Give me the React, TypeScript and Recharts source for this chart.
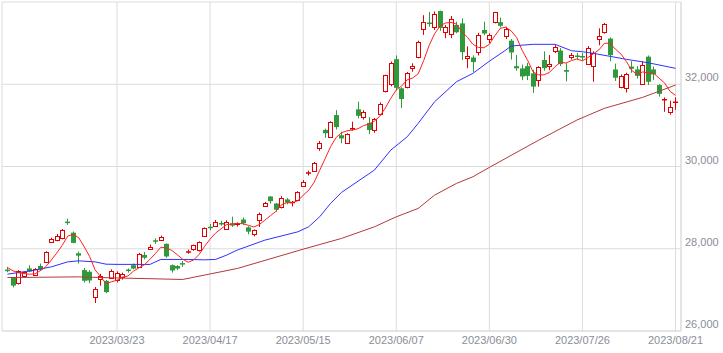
import { ComposedChart, Bar, Line, XAxis, YAxis, CartesianGrid } from 'recharts';

const dates = [
  '2023/02/21', '2023/02/22', '2023/02/24', '2023/02/27', '2023/02/28', '2023/03/01', '2023/03/02', '2023/03/03',
  '2023/03/06', '2023/03/07', '2023/03/08', '2023/03/09', '2023/03/10', '2023/03/13', '2023/03/14', '2023/03/15',
  '2023/03/16', '2023/03/17', '2023/03/20', '2023/03/22', '2023/03/23', '2023/03/24', '2023/03/27', '2023/03/28',
  '2023/03/29', '2023/03/30', '2023/03/31', '2023/04/03', '2023/04/04', '2023/04/05', '2023/04/06', '2023/04/07',
  '2023/04/10', '2023/04/11', '2023/04/12', '2023/04/13', '2023/04/14', '2023/04/17', '2023/04/18', '2023/04/19',
  '2023/04/20', '2023/04/21', '2023/04/24', '2023/04/25', '2023/04/26', '2023/04/27', '2023/04/28', '2023/05/01',
  '2023/05/02', '2023/05/08', '2023/05/09', '2023/05/10', '2023/05/11', '2023/05/12', '2023/05/15', '2023/05/16',
  '2023/05/17', '2023/05/18', '2023/05/19', '2023/05/22', '2023/05/23', '2023/05/24', '2023/05/25', '2023/05/26',
  '2023/05/29', '2023/05/30', '2023/05/31', '2023/06/01', '2023/06/02', '2023/06/05', '2023/06/06', '2023/06/07',
  '2023/06/08', '2023/06/09', '2023/06/12', '2023/06/13', '2023/06/14', '2023/06/15', '2023/06/16', '2023/06/19',
  '2023/06/20', '2023/06/21', '2023/06/22', '2023/06/23', '2023/06/26', '2023/06/27', '2023/06/28', '2023/06/29',
  '2023/06/30', '2023/07/03', '2023/07/04', '2023/07/05', '2023/07/06', '2023/07/07', '2023/07/10', '2023/07/11',
  '2023/07/12', '2023/07/13', '2023/07/14', '2023/07/18', '2023/07/19', '2023/07/20', '2023/07/21', '2023/07/24',
  '2023/07/25', '2023/07/26', '2023/07/27', '2023/07/28', '2023/07/31', '2023/08/01', '2023/08/02', '2023/08/03',
  '2023/08/04', '2023/08/07', '2023/08/08', '2023/08/09', '2023/08/10', '2023/08/14', '2023/08/15', '2023/08/16',
  '2023/08/17', '2023/08/18', '2023/08/21',
];

const opens = [
  27500, 27290, 27160, 27320, 27520, 27380, 27580, 27680, 28170, 28210, 28250, 28660, 28390, 27890, 27480, 27440,
  26820, 27255, 27220, 27300, 27240, 27300, 27490, 27600, 27575, 27850, 28000, 28210, 28225, 28120, 27600, 27580,
  27660, 27900, 27980, 27950, 28310, 28540, 28560, 28640, 28480, 28620, 28570, 28710, 28520, 28355, 28700, 29060,
  29270, 29100, 29020, 29200, 29110, 29200, 29540, 29830, 29900, 30440, 30890, 30720, 31250, 30760, 30580, 30890,
  31390, 31195, 31060, 30870, 31290, 31840, 31990, 32610, 31900, 31924, 32390, 32655, 33340, 33510, 33385, 33780,
  33265, 33200, 33440, 33480, 32660, 32650, 32790, 33320, 33080, 33500, 33510, 33170, 33060, 32440, 32385, 32440,
  32265, 32100, 32590, 32440, 32790, 32820, 32345, 32650, 32710, 32690, 32510, 32440, 33090, 33290, 33110, 32360,
  31920, 31925, 32430, 32360, 32020, 32670, 32360, 31980, 31600, 31320, 31550,
];

const highs = [
  27560, 27310, 27480, 27430, 27600, 27530, 27640, 27940, 28270, 28360, 28480, 28730, 28420, 27930, 27530, 27480,
  27070, 27390, 27240, 27500, 27450, 27420, 27520, 27640, 27900, 27920, 28100, 28250, 28320, 28130, 27620, 27600,
  27700, 27980, 28100, 28180, 28520, 28600, 28700, 28680, 28690, 28780, 28640, 28760, 28550, 28470, 28880, 29140,
  29280, 29110, 29280, 29230, 29160, 29400, 29670, 29900, 30110, 30620, 30920, 31100, 31370, 30845, 30810, 31090,
  31575, 31370, 31200, 31180, 31560, 32230, 32550, 32700, 31925, 32300, 32510, 33060, 33680, 33760, 33770, 33790,
  33440, 33660, 33520, 33600, 32920, 32700, 33250, 33520, 33240, 33760, 33620, 33400, 33100, 32710, 32480, 32520,
  32350, 32440, 32800, 32710, 32950, 32880, 32510, 32760, 32760, 32760, 32930, 32800, 33360, 33490, 33140, 32500,
  32240, 32280, 32560, 32440, 32560, 32700, 32430, 32000, 31680, 31600, 31680,
];

const lows = [
  27430, 27060, 27130, 27290, 27430, 27350, 27460, 27660, 28140, 28180, 28230, 28580, 28130, 27640, 27180, 27160,
  26680, 27100, 26920, 27280, 27180, 27250, 27420, 27500, 27560, 27740, 27980, 28120, 28200, 27780, 27420, 27480,
  27560, 27880, 27950, 27930, 28300, 28450, 28540, 28560, 28460, 28530, 28540, 28580, 28350, 28300, 28530, 29040,
  29100, 28900, 28980, 29080, 29030, 29170, 29510, 29780, 29880, 30380, 30700, 30700, 30900, 30565, 30560, 30870,
  31170, 31140, 30790, 30820, 31250, 31800, 31950, 31850, 31420, 31900, 32305, 32630, 33200, 33400, 33320, 33300,
  33120, 33120, 33240, 32590, 32390, 32300, 32700, 33190, 33000, 33480, 33380, 33100, 32600, 32330, 32100, 32100,
  31790, 31940, 32330, 32340, 32760, 32440, 32070, 32600, 32600, 32580, 32480, 32060, 32950, 33230, 32560, 32080,
  31900, 31800, 32280, 32140, 32000, 31980, 32100, 31700, 31330, 31260, 31380,
];

const closes = [
  27473, 27104, 27453, 27423, 27445, 27516, 27498, 27927, 28237, 28309, 28444, 28623, 28143, 27832, 27222, 27229,
  27010, 27333, 26945, 27466, 27419, 27385, 27476, 27518, 27883, 27782, 28041, 28188, 28287, 27813, 27472, 27518,
  27633, 27923, 28082, 28156, 28493, 28514, 28658, 28606, 28657, 28564, 28593, 28620, 28416, 28457, 28856, 29123,
  29157, 28949, 29242, 29122, 29126, 29388, 29626, 29842, 30093, 30573, 30808, 31086, 30958, 30683, 30801, 30916,
  31233, 31328, 30888, 31148, 31524, 32217, 32506, 31913, 31641, 32265, 32434, 33018, 33502, 33485, 33706, 33370,
  33388, 33575, 33264, 32781, 32698, 32538, 33193, 33234, 33189, 33753, 33422, 33338, 32773, 32388, 32189, 32203,
  31943, 32419, 32391, 32493, 32896, 32490, 32304, 32700, 32682, 32668, 32891, 32759, 33172, 33476, 32707, 32159,
  32192, 32254, 32377, 32204, 32473, 32059, 32238, 31766, 31626, 31450, 31565,
];

// 5-day average, one value per session
const ma5 = [
  27543, 27463, 27415, 27397, 27380, 27388, 27467, 27562, 27725, 27897, 28083, 28308, 28351, 28270, 28053, 27810,
  27487, 27325, 27148, 27197, 27235, 27310, 27338, 27453, 27536, 27609, 27740, 27882, 28036, 28022, 27960, 27856,
  27745, 27672, 27726, 27862, 28057, 28234, 28381, 28485, 28586, 28600, 28616, 28608, 28570, 28530, 28588, 28694,
  28802, 28908, 29065, 29119, 29119, 29165, 29301, 29421, 29615, 29904, 30188, 30480, 30703, 30821, 30867, 30889,
  30918, 30992, 31033, 31103, 31224, 31421, 31657, 31862, 31960, 32108, 32152, 32254, 32572, 32941, 33229, 33416,
  33490, 33505, 33461, 33276, 33141, 32971, 32895, 32889, 32970, 33181, 33358, 33387, 33295, 33135, 32822, 32578,
  32299, 32228, 32229, 32290, 32428, 32538, 32515, 32577, 32614, 32569, 32649, 32740, 32834, 32993, 33001, 32855,
  32741, 32558, 32338, 32237, 32300, 32273, 32270, 32148, 32032, 31828, 31729,
];

// 25-day and 75-day averages, read at selected sessions [index, value]
const ma25Points = [
  [0, 27382], [5, 27480], [8, 27560], [11, 27681], [13, 27706], [16, 27681], [18, 27625], [20, 27620],
  [23, 27620], [26, 27618], [28, 27740], [33, 27740], [36, 27730], [38, 27740], [40, 27844], [42, 27970],
  [47, 28209], [53, 28411], [55, 28533], [57, 28776], [59, 29102], [61, 29370], [67, 29912], [70, 30399],
  [73, 30723], [75, 31049], [78, 31574], [82, 32061], [85, 32265], [88, 32560], [91, 32832], [92, 32930],
  [96, 32971], [100, 32971], [103, 32815], [105, 32791], [107, 32752], [113, 32606], [117, 32523], [122, 32387],
];

const ma75Points = [
  [0, 27300], [13, 27316], [20, 27290], [32, 27253], [42, 27521], [54, 27990], [61, 28251], [67, 28533],
  [71, 28776], [75, 28980], [78, 29304], [82, 29589], [85, 29750], [88, 29978], [97, 30640], [104, 31130],
  [109, 31414], [116, 31681], [122, 31980],
];

const tickDates = ['2023/03/23', '2023/04/17', '2023/05/15', '2023/06/07', '2023/06/30', '2023/07/26', '2023/08/21'];
const priceTicks = [26000, 28000, 30000, 32000, 34000];

const UP = '#e00000';
const DOWN = '#2e9a3c';
const GRID = '#dcdcdc';
const FONT = "'Liberation Sans', Arial, sans-serif";

const data: any[] = dates.map((date, i) => ({
  date,
  open: opens[i],
  high: highs[i],
  low: lows[i],
  close: closes[i],
  range: [lows[i], highs[i]],
  ma5: ma5[i],
  ma25: null,
  ma75: null,
}));
ma25Points.forEach(([i, v]) => (data[i].ma25 = v));
ma75Points.forEach(([i, v]) => (data[i].ma75 = v));

function Candle(props: any) {
  const { x, y, width, height, payload } = props;
  const { open, high, low, close } = payload;
  const top = Math.min(y, y + height);
  const h = Math.abs(height);
  const toY = (v: number) => (high === low ? top : top + ((high - v) / (high - low)) * h);
  const cx = Math.round(x + width / 2) + 0.5;
  const up = close >= open;
  const color = up ? UP : DOWN;
  const yo = toY(open);
  const yc = toY(close);
  const bTop = Math.min(yo, yc);
  const bH = Math.abs(yc - yo);
  return (
    <g>
      <line x1={cx} x2={cx} y1={top} y2={top + h} stroke={color} strokeWidth={1} />
      {bH < 1.5 ? (
        <line x1={cx - 2.5} x2={cx + 2.5} y1={yc} y2={yc} stroke={color} strokeWidth={1.5} />
      ) : up ? (
        <rect x={cx - 2} y={Math.round(bTop) + 0.5} width={4} height={Math.round(bH)} fill="#fff" stroke={color} strokeWidth={1} />
      ) : (
        <rect x={cx - 2.5} y={bTop} width={5} height={bH} fill={color} />
      )}
    </g>
  );
}

function PriceTick({ x, y, payload }: any) {
  if (payload.value === 34000) return <g />;
  return (
    <text x={x} y={y - 3} fill="#8a8e96" fontSize={11} fontFamily={FONT} textAnchor="start">
      {payload.value.toLocaleString('en-US')}
    </text>
  );
}

function DateTick({ x, y, payload }: any) {
  return (
    <text x={x} y={y + 13} fill="#8a8e96" fontSize={11} fontFamily={FONT} textAnchor="middle">
      {payload.value}
    </text>
  );
}

export default function App() {
  return (
    <div style={{ position: 'absolute', left: 0, top: 0, width: 723, height: 353, background: '#fff' }}>
      <ComposedChart width={723} height={353} data={data} margin={{ top: 2, right: 0, bottom: 0, left: 2 }}>
        <CartesianGrid stroke={GRID} yAxisId="p" />
        <XAxis
          dataKey="date"
          ticks={tickDates}
          interval={0}
          height={22}
          padding={{ left: 2.74, right: 2.74 }}
          tickLine={false}
          tickSize={0}
          tickMargin={0}
          stroke={GRID}
          tick={<DateTick />}
        />
        <YAxis yAxisId="l" orientation="left" width={0} tick={false} tickLine={false} stroke={GRID} />
        <YAxis
          yAxisId="p"
          orientation="right"
          width={42}
          domain={[26000, 34000]}
          ticks={priceTicks}
          allowDataOverflow
          tickLine={false}
          tickSize={0}
          tickMargin={4}
          stroke={GRID}
          tick={<PriceTick />}
        />
        <Line yAxisId="p" dataKey="ma75" type="linear" stroke="#b03a3a" strokeWidth={1} dot={false} activeDot={false} connectNulls isAnimationActive={false} />
        <Line yAxisId="p" dataKey="ma25" type="linear" stroke="#3030ff" strokeWidth={1} dot={false} activeDot={false} connectNulls isAnimationActive={false} />
        <Bar yAxisId="p" dataKey="range" barSize={5} shape={<Candle />} isAnimationActive={false} />
        <Line yAxisId="p" dataKey="ma5" type="linear" stroke="#ff2020" strokeWidth={1} dot={false} activeDot={false} isAnimationActive={false} />
      </ComposedChart>
    </div>
  );
}
